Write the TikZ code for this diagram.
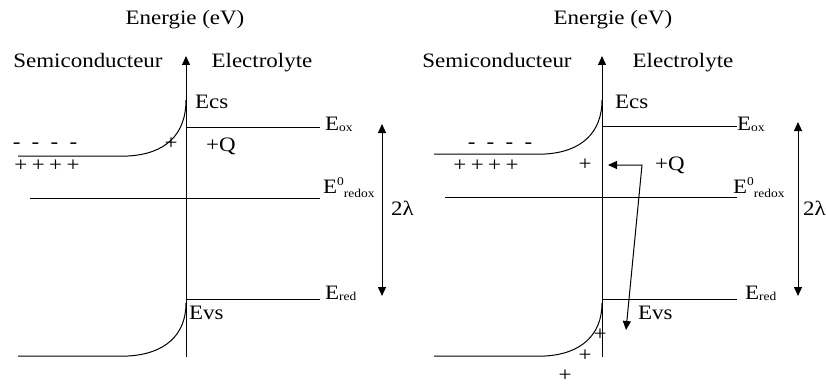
\documentclass[tikz,border=0pt]{standalone}
\usepackage{fontspec}
\setmainfont[FakeStretch=1.12]{Liberation Serif}
\usetikzlibrary{arrows.meta}
\newcommand\smtxt[1]{{\fontsize{12}{12}\selectfont #1}}
\begin{document}
\begin{tikzpicture}[x=1pt,y=-1pt,
  band/.style={line width=1pt},
  tipped/.style={line width=1pt,-{Triangle[length=9pt,width=8pt]}},
  twotips/.style={line width=1pt,{Triangle[length=9pt,width=8pt]}-{Triangle[length=9pt,width=8pt]}},
  lbl/.style={inner sep=0pt,font=\fontsize{20.5}{24}\selectfont},
  sgn/.style={inner sep=0pt,font=\fontsize{20.5}{24}\selectfont}]
\useasboundingbox (0,0) rectangle (826,385);

% ---------------- left panel ----------------
\coordinate (Lbot) at (186,357);
\coordinate (Ltop) at (186,56);
\draw[tipped] (Lbot) -- (Ltop);
\node[lbl,anchor=base] (Len) at (185,25) {Energie (eV)};
\node[lbl,anchor=base] (Lsc) at (88,68) {Semiconducteur};
\node[lbl,anchor=base] (Lel) at (262,68) {Electrolyte};
\node[lbl,anchor=base west] (Lecs) at (195,108) {Ecs};
\node[lbl,anchor=base west] (Levs) at (189,319) {Evs};
% conduction band
\coordinate (Lcb0) at (18,156);
\coordinate (Lcb1) at (128,156);
\coordinate (Lcb2) at (186,100);
\draw[band] (Lcb0) -- (Lcb1) .. controls (165,154) and (186,135) .. (Lcb2);
% valence band
\coordinate (Lvb0) at (18,356);
\coordinate (Lvb1) at (128,356);
\coordinate (Lvb2) at (186,303);
\draw[band] (Lvb0) -- (Lvb1) .. controls (165,354) and (186,335) .. (Lvb2);
% levels
\coordinate (Lox0) at (186,127); \coordinate (Lox1) at (320,127);
\coordinate (Lrd0) at (30,198); \coordinate (Lrd1) at (320,198);
\coordinate (Lre0) at (186,299); \coordinate (Lre1) at (320,299);
\draw[band] (Lox0) -- (Lox1);
\draw[band] (Lrd0) -- (Lrd1);
\draw[band] (Lre0) -- (Lre1);
\node[lbl,anchor=base west] (Lloxl) at (325,130) {E\raisebox{-1pt}{\smtxt{ox}}};
\node[lbl,anchor=base west] (Llrdl) at (323,193) {E\raisebox{8pt}{\smtxt{0}}\raisebox{-4pt}{\smtxt{redox}}};
\node[lbl,anchor=base west] (Llrel) at (325,299) {E\raisebox{-1pt}{\smtxt{red}}};
% 2 lambda
\coordinate (L2a) at (382,124);
\coordinate (L2b) at (382,296);
\draw[twotips] (L2a) -- (L2b);
\node[lbl,anchor=base west] (L2l) at (391,215) {2λ};
% charges
\node[sgn] (Lminus) at (45,146) {-\hspace{0.55em}-\hspace{0.55em}-\hspace{0.55em}-};
\node[sgn] (Lplus) at (47,166) {+\hspace{0.22em}+\hspace{0.22em}+\hspace{0.22em}+};
\node[sgn] (Lp1) at (171,144) {+};
\node[lbl,anchor=base west] (LQ) at (206,151) {+Q};

% ---------------- right panel ----------------
\coordinate (Rbot) at (602,357);
\coordinate (Rtop) at (602,56);
\draw[tipped] (Rbot) -- (Rtop);
\node[lbl,anchor=base] (Ren) at (613,25) {Energie (eV)};
\node[lbl,anchor=base] (Rsc) at (497,68) {Semiconducteur};
\node[lbl,anchor=base] (Rel) at (683,68) {Electrolyte};
\node[lbl,anchor=base west] (Recs) at (615,108) {Ecs};
\node[lbl,anchor=base west] (Revs) at (638,319) {Evs};
% conduction band
\coordinate (Rcb0) at (434,154);
\coordinate (Rcb1) at (545,154);
\coordinate (Rcb2) at (602,100);
\draw[band] (Rcb0) -- (Rcb1) .. controls (581,152) and (602,133) .. (Rcb2);
% valence band
\coordinate (Rvb0) at (434,356);
\coordinate (Rvb1) at (545,356);
\coordinate (Rvb2) at (602,303);
\draw[band] (Rvb0) -- (Rvb1) .. controls (581,354) and (602,335) .. (Rvb2);
% levels
\coordinate (Rox0) at (602,126); \coordinate (Rox1) at (737,126);
\coordinate (Rrd0) at (445,197); \coordinate (Rrd1) at (737,197);
\coordinate (Rre0) at (602,299); \coordinate (Rre1) at (737,299);
\draw[band] (Rox0) -- (Rox1);
\draw[band] (Rrd0) -- (Rrd1);
\draw[band] (Rre0) -- (Rre1);
\node[lbl,anchor=base west] (Rloxl) at (737,130) {E\raisebox{-1pt}{\smtxt{ox}}};
\node[lbl,anchor=base west] (Rlrdl) at (733,193) {E\raisebox{8pt}{\smtxt{0}}\raisebox{-4pt}{\smtxt{redox}}};
\node[lbl,anchor=base west] (Rlrel) at (745,299) {E\raisebox{-1pt}{\smtxt{red}}};
% 2 lambda
\coordinate (R2a) at (798,122);
\coordinate (R2b) at (798,296);
\draw[twotips] (R2a) -- (R2b);
\node[lbl,anchor=base west] (R2l) at (803,215) {2λ};
% charges
\node[sgn] (Rminus) at (500,146) {-\hspace{0.55em}-\hspace{0.55em}-\hspace{0.55em}-};
\node[sgn] (Rplus) at (486,166) {+\hspace{0.22em}+\hspace{0.22em}+\hspace{0.22em}+};
\node[sgn] (Rp1) at (585,165) {+};
\node[sgn] (Rp2) at (600,335) {+};
\node[sgn] (Rp3) at (585,356) {+};
\node[sgn] (Rp4) at (565,376) {+};
\node[lbl,anchor=base west] (RQ) at (655,170) {+Q};
% transfer arrow
\coordinate (Rtr0) at (608,165);
\coordinate (Rtr1) at (642,165);
\coordinate (Rtr2) at (626,330);
\draw[twotips] (Rtr0) -- (Rtr1) -- (Rtr2);
\end{tikzpicture}
\end{document}
